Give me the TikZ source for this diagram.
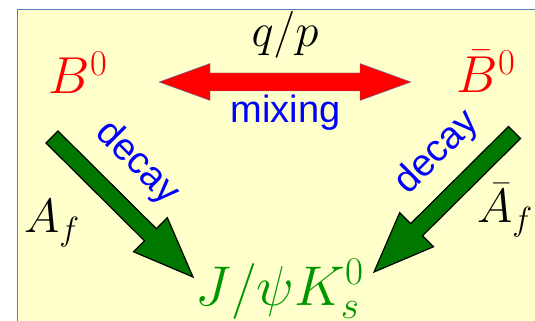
\RequirePackage{fix-cm}
\documentclass[tikz,border=0pt]{standalone}
\usepackage{fontspec}
\newfontfamily\labelfont{Liberation Sans}
\usetikzlibrary{calc}

\definecolor{boxyellow}{RGB}{255,255,204}
\definecolor{boxblue}{RGB}{79,129,189}
\definecolor{decaygreen}{RGB}{0,120,0}
\definecolor{finalgreen}{RGB}{0,150,0}

% fat arrow: style, tail, tip, shaft half width, head half width, head length
\newcommand{\fatarrow}[6]{%
  \coordinate (base) at ($(#3)!#6!(#2)$);
  \draw[#1] ($(#2)!#4!90:(#3)$) -- ($(base)!#4!-90:(#2)$) -- ($(base)!#5!-90:(#2)$) -- (#3)
    -- ($(base)!#5!90:(#2)$) -- ($(base)!#4!90:(#2)$) -- ($(#2)!#4!-90:(#3)$) -- cycle;
}

\begin{document}
\begin{tikzpicture}[x=1pt,y=1pt,
    particle/.style={text=red,inner sep=0pt,anchor=base,font=\fontsize{52}{60}\selectfont},
    ampl/.style={inner sep=0pt,anchor=base west,font=\fontsize{48}{56}\selectfont},
    proc/.style={text=blue,inner sep=0pt,font=\labelfont\fontsize{38}{44}\selectfont}]
    \useasboundingbox (0,0) rectangle (535,321);
    \clip (0,0) rectangle (535,321);
    \draw[boxblue,fill=boxyellow] (17.5,-10) rectangle (560,312);

    \node[particle] (B0) at (78,227) {$B^0$};
    \node[particle] (B0bar) at (486,228) {$\bar{B}^0$};
    \node[particle,text=finalgreen,font=\fontsize{56}{64}\selectfont] (final) at (279.5,16) {$J/\psi K_s^0$};

    % mixing
    \coordinate (mixL) at (159,239);
    \coordinate (mixR) at (411,239);
    \coordinate (mixbL) at ($(mixL)!51pt!(mixR)$);
    \coordinate (mixbR) at ($(mixR)!51pt!(mixL)$);
    \draw[boxblue,fill=red] (mixL) -- ($(mixbL)!18.5pt!90:(mixR)$) -- ($(mixbL)!9pt!90:(mixR)$)
      -- ($(mixbR)!9pt!-90:(mixL)$) -- ($(mixbR)!18.5pt!-90:(mixL)$) -- (mixR)
      -- ($(mixbR)!18.5pt!90:(mixL)$) -- ($(mixbR)!9pt!90:(mixL)$)
      -- ($(mixbL)!9pt!-90:(mixR)$) -- ($(mixbL)!18.5pt!-90:(mixR)$) -- cycle;
    \node[inner sep=0pt,anchor=base,font=\fontsize{47}{54}\selectfont] (qp) at (285,274) {$q/p$};
    \node[proc,anchor=base] (mix) at (285.5,198) {mixing};

    % decays
    \coordinate (tailL) at (52,184);
    \coordinate (tipL) at (193,44);
    \coordinate (tailR) at (514.5,188.5);
    \coordinate (tipR) at (374,49);
    \fatarrow{draw=black,line width=1.2pt,fill=decaygreen,line join=miter}{tailL}{tipL}{8.5pt}{24pt}{60pt}
    \fatarrow{draw=black,line width=1.2pt,fill=decaygreen,line join=miter}{tailR}{tipR}{8.5pt}{24pt}{60pt}
    \node[proc,rotate=-45] (decayL) at (137,158) {decay};
    \node[proc,rotate=45] (decayR) at (437,168) {decay};
    \node[ampl] (Af) at (24,88) {$A_f$};
    \node[ampl] (Afbar) at (477,98) {$\bar{A}_f$};
\end{tikzpicture}
\end{document}
